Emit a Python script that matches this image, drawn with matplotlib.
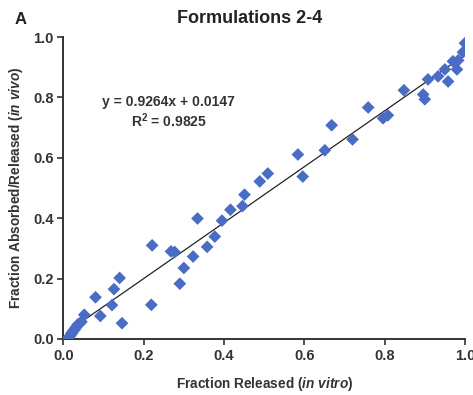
"""Formulations 2-4: in vitro release vs in vivo absorption (IVIVC)."""
import matplotlib

matplotlib.use("Agg")
import matplotlib.pyplot as plt
import numpy as np

plt.rcParams["font.family"] = ["Liberation Sans", "DejaVu Sans"]
plt.rcParams["mathtext.fontset"] = "custom"
plt.rcParams["mathtext.it"] = "Liberation Sans:italic:bold"
plt.rcParams["mathtext.rm"] = "Liberation Sans:bold"

# fraction released in vitro
frac_released = [
    0.012, 0.015, 0.018, 0.020, 0.022, 0.025, 0.028, 0.030, 0.033, 0.036,
    0.040, 0.045, 0.052, 0.080, 0.092, 0.121, 0.126, 0.140, 0.146, 0.219,
    0.221, 0.268, 0.277, 0.290, 0.300, 0.323, 0.334, 0.358, 0.377, 0.395,
    0.416, 0.446, 0.451, 0.489, 0.509, 0.584, 0.596, 0.651, 0.668, 0.720,
    0.759, 0.796, 0.808, 0.848, 0.896, 0.900, 0.908, 0.933, 0.950, 0.958,
    0.970, 0.980, 0.983, 0.995, 1.000,
]
# fraction absorbed / released in vivo
frac_absorbed = [
    0.002, 0.008, 0.012, 0.018, 0.020, 0.028, 0.030, 0.036, 0.042, 0.048,
    0.050, 0.057, 0.080, 0.138, 0.076, 0.112, 0.165, 0.202, 0.052, 0.113,
    0.310, 0.290, 0.288, 0.183, 0.235, 0.273, 0.399, 0.305, 0.339, 0.392,
    0.428, 0.440, 0.478, 0.522, 0.548, 0.611, 0.538, 0.625, 0.708, 0.661,
    0.767, 0.731, 0.741, 0.824, 0.810, 0.794, 0.860, 0.870, 0.893, 0.853,
    0.920, 0.893, 0.923, 0.950, 0.980,
]

# linear trendline reported on the chart
slope = 0.9264
intercept = 0.0147
r_squared = 0.9825

fig = plt.figure(figsize=(4.73, 3.95), dpi=100)
ax = fig.add_axes([0.134, 0.142, 0.849, 0.764])

fit_x = np.array([0.01, 1.0])
ax.plot(fit_x, slope * fit_x + intercept, color="#222222", lw=0.9, zorder=2)
ax.scatter(frac_released, frac_absorbed, marker="D", s=42, color="#4a6cc4",
           edgecolors="none", zorder=3)

ax.set_xlim(0, 1)
ax.set_ylim(0, 1)
ticks = [0.0, 0.2, 0.4, 0.6, 0.8, 1.0]
ax.set_xticks(ticks)
ax.set_yticks(ticks)
ax.set_xticklabels([f"{t:.1f}" for t in ticks], fontsize=10.5, fontweight="bold", color="#333333")
ax.set_yticklabels([f"{t:.1f}" for t in ticks], fontsize=10.5, fontweight="bold", color="#333333")
ax.tick_params(direction="out", length=4, width=1.2, color="#333333", pad=3)
for side in ["top", "right"]:
    ax.spines[side].set_visible(False)
for side in ["left", "bottom"]:
    ax.spines[side].set_linewidth(1.4)
    ax.spines[side].set_color("#333333")

ax.set_xlabel(r"Fraction Released ($\it{in\ vitro}$)", fontsize=9.8,
              fontweight="bold", color="#333333", labelpad=9)
ax.set_ylabel(r"Fraction Absorbed/Released ($\it{in\ vivo}$)", fontsize=9.8,
              fontweight="bold", color="#333333", labelpad=6)

fig.text(0.527, 0.953, "Formulations 2-4", ha="center", va="center",
         fontsize=13, fontweight="bold", color="#222222")
fig.text(0.044, 0.95, "A", ha="center", va="center", fontsize=12,
         fontweight="bold", color="#222222")

ax.text(0.262, 0.785, f"y = {slope}x + {intercept}", transform=ax.transAxes,
        ha="center", va="center", fontsize=10, fontweight="bold", color="#333333")
ax.text(0.262, 0.722, f"R$^2$ = {r_squared}", transform=ax.transAxes,
        ha="center", va="center", fontsize=10, fontweight="bold", color="#333333")

fig.savefig("out.png", dpi=100)
